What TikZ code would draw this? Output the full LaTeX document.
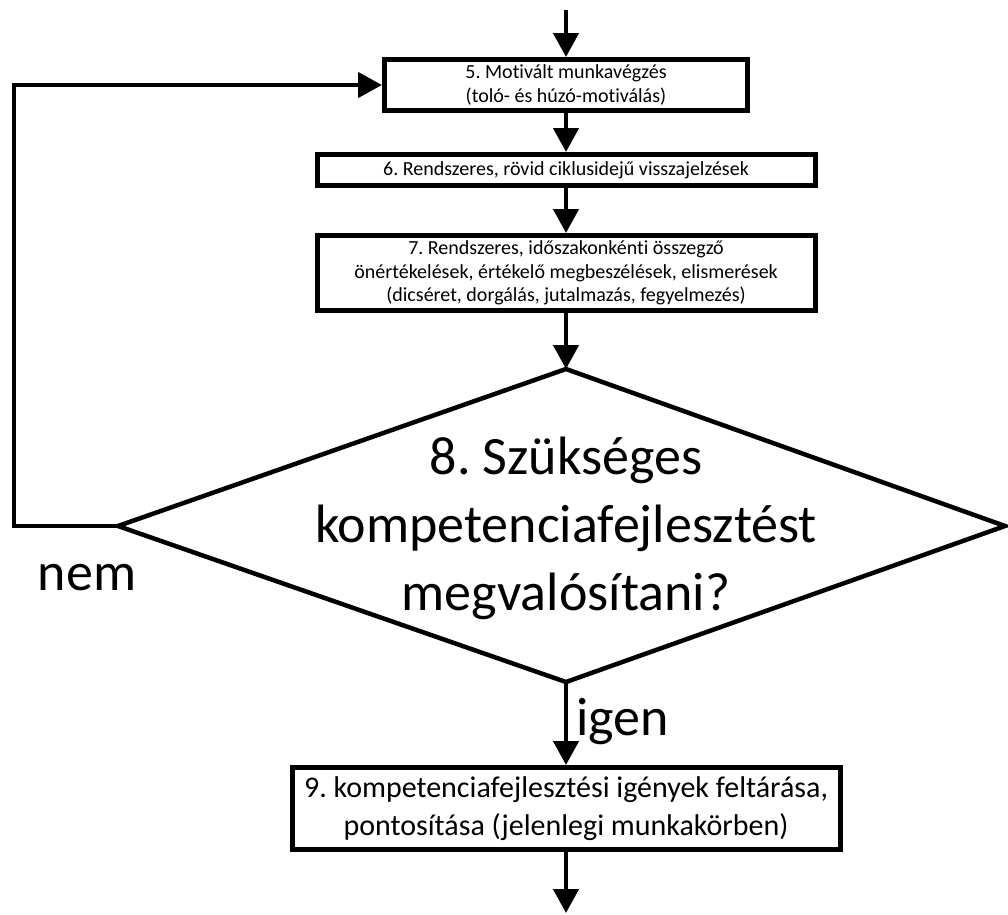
\documentclass[tikz,border=0pt]{standalone}
\usepackage{fontspec}
\setmainfont{Carlito}[Ligatures={NoCommon}]
\frenchspacing
\usetikzlibrary{arrows.meta}
\begin{document}
\begin{tikzpicture}[x=1pt,y=-1pt,
  box/.style={draw=black,line width=5pt,fill=white,rectangle,inner sep=0pt,align=center,font=\fontsize{20}{23.5}\selectfont},
  conn/.style={line width=4.5pt,-{Triangle[length=24pt,width=25pt]}},
  big/.style={font=\fontsize{54}{68}\selectfont,align=center,inner sep=0pt}]
\useasboundingbox (0,0) rectangle (1008,914);
\node[box,minimum width=363pt,minimum height=51pt] (b5) at (566,85) {5. Motivált munkavégzés\\(toló- és húzó-motiválás)};
\node[box,minimum width=498pt,minimum height=31pt] (b6) at (566,170) {6. Rendszeres, rövid ciklusidejű visszajelzések};
\node[box,minimum width=498pt,minimum height=75pt] (b7) at (566,273) {7. Rendszeres, időszakonkénti összegző\\ önértékelések, értékelő megbeszélések, elismerések\\(dicséret, dorgálás, jutalmazás, fegyelmezés)};
\node[box,minimum width=548pt,minimum height=82pt,font=\fontsize{30}{38}\selectfont] (b9) at (566,808.5) {9. kompetenciafejlesztési igények feltárása,\\pontosítása (jelenlegi munkakörben)};
% diamond
\coordinate (dt) at (566,369);
\coordinate (dr) at (1005,526);
\coordinate (db) at (566,682);
\coordinate (dl) at (118,526);
\draw[line width=4.5pt,line join=miter] (dt) -- (dr) -- (db) -- (dl) -- cycle;
\node[big] (d8) at (566,528) {8. Szükséges\\kompetenciafejlesztést\\megvalósítani?};
\node[big,anchor=base] (nem) at (87,590) {nem};
\node[big,anchor=base west] (igen) at (576,735) {igen};
\coordinate (top) at (566,10);
\coordinate (bot) at (566,913);
\coordinate (c1) at (14,526);
\coordinate (c2) at (14,85);
\draw[conn] (top) -- (b5.north);
\draw[conn] (b5.south) -- (b6.north);
\draw[conn] (b6.south) -- (b7.north);
\draw[conn] (b7.south) -- (dt);
\draw[conn] (db) -- (b9.north);
\draw[conn] (b9.south) -- (bot);
\draw[conn,line join=miter] (dl) -- (c1) -- (c2) -- (b5.west);
\end{tikzpicture}
\end{document}
